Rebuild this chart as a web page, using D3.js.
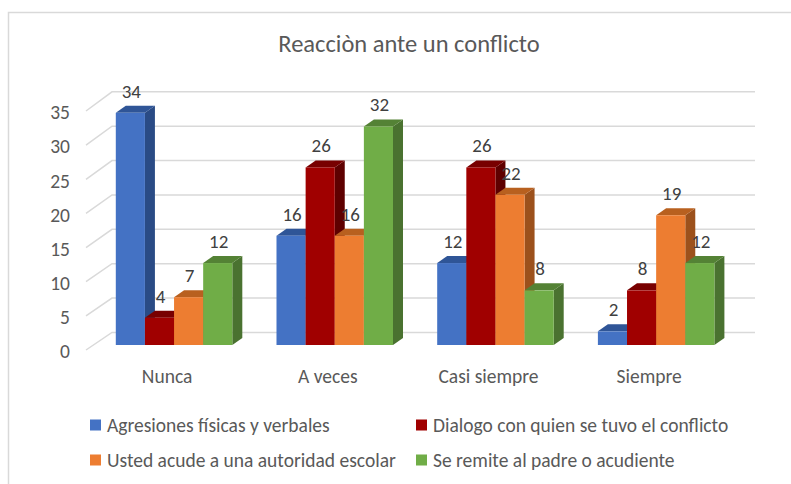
<!DOCTYPE html>
<html>
<head>
<meta charset="utf-8">
<script src="https://cdn.jsdelivr.net/npm/d3@7"></script>
<style>
  body { margin: 0; background: #fff; }
  text { font-family: Carlito, Lato, "Liberation Sans", sans-serif; }
</style>
</head>
<body>
<script>
var categories = ["Nunca", "A veces", "Casi siempre", "Siempre"];
var seriesNames = ["Agresiones físicas y verbales", "Dialogo con quien se tuvo el conflicto",
                   "Usted acude a una autoridad escolar", "Se remite al padre o acudiente"];
var agresiones = [34, 16, 12, 2];
var dialogo = [4, 26, 26, 8];
var autoridad = [7, 16, 22, 19];
var padre = [12, 32, 8, 12];
var yTicks = [0, 5, 10, 15, 20, 25, 30, 35];

var allSeries = [agresiones, dialogo, autoridad, padre];
// front, top, side
var colors = [
  ["#4472C4", "#2F5597", "#2A4B85"],
  ["#A00000", "#780000", "#5E0000"],
  ["#ED7D31", "#B8601F", "#9C511C"],
  ["#70AD47", "#548235", "#4A7230"]
];

var W = 791, H = 484;
var svg = d3.select("body").append("svg").attr("width", W).attr("height", H);

svg.append("rect").attr("x", 8.5).attr("y", 12.5).attr("width", 800).attr("height", 500)
   .attr("fill", "#fff").attr("stroke", "#d9d9d9").attr("stroke-width", 1.5);

svg.append("text").attr("x", 409).attr("y", 52).attr("text-anchor", "middle")
   .attr("font-size", 24.5).attr("fill", "#595959").text("Reacciòn ante un conflicto");

// 3d geometry
var depthX = 26, depthY = -17;      // floor depth
var barDX = 10, barDY = -7;         // bar depth
var yLeft = d3.scaleLinear().domain([0, 35]).range([350, 111]);
var yBack = d3.scaleLinear().domain([0, 35]).range([332.5, 91.8]);
var yBar = d3.scaleLinear().domain([0, 35]).range([345, 106]);

var x0 = d3.scaleBand().domain(categories).range([93.7, 736.5]).paddingInner(0.275).paddingOuter(0.1375);
var x1 = d3.scaleBand().domain(d3.range(4)).range([0, x0.bandwidth()]);

// gridlines: left wall diagonals + back wall horizontals
var grid = svg.append("g").attr("stroke", "#d9d9d9").attr("stroke-width", 1.5).attr("fill", "none");
yTicks.forEach(function(v){
  grid.append("path").attr("d", "M86," + yLeft(v) + "L" + (86 + depthX) + "," + yBack(v) + "L755," + yBack(v));
});

// y axis labels
var ay = svg.append("g").attr("transform", "translate(86,1.5)")
  .call(d3.axisLeft(yLeft).tickValues(yTicks).tickSize(0).tickPadding(16));
ay.select(".domain").remove();
ay.selectAll("text").attr("font-size", 19.5).attr("fill", "#595959").style("font-family", null);

// bars, drawn left to right
var bars = svg.append("g");
categories.forEach(function(c, ci){
  allSeries.forEach(function(s, si){
    var v = s[ci];
    var xa = x0(c) + x1(si), xb = xa + x1.bandwidth();
    var yt = yBar(v), yb = yBar(0);
    var g = bars.append("g");
    g.append("path").attr("fill", colors[si][2])
      .attr("d", "M" + xb + "," + yt + "L" + (xb + barDX) + "," + (yt + barDY) +
                 "L" + (xb + barDX) + "," + (yb + barDY) + "L" + xb + "," + yb + "Z");
    g.append("path").attr("fill", colors[si][1])
      .attr("d", "M" + xa + "," + yt + "L" + (xa + barDX) + "," + (yt + barDY) +
                 "L" + (xb + barDX) + "," + (yt + barDY) + "L" + xb + "," + yt + "Z");
    g.append("rect").attr("fill", colors[si][0])
      .attr("x", xa).attr("y", yt).attr("width", xb - xa).attr("height", yb - yt);
  });
});

// data labels
var labels = svg.append("g");
categories.forEach(function(c, ci){
  allSeries.forEach(function(s, si){
    var v = s[ci];
    labels.append("text")
      .attr("x", x0(c) + x1(si) + x1.bandwidth() / 2 + 1)
      .attr("y", yBar(v) - 15)
      .attr("text-anchor", "middle").attr("font-size", 19).attr("fill", "#404040")
      .text(v);
  });
});

// category axis
var ax = svg.append("g").attr("transform", "translate(-7,369)")
  .call(d3.axisBottom(x0).tickSize(0).tickPadding(0));
ax.select(".domain").remove();
ax.selectAll("text").attr("font-size", 19.5).attr("fill", "#595959").style("font-family", null);

// legend
var legendPos = [[90, 425], [416, 425], [90, 460], [416, 460]];
var legend = svg.append("g");
seriesNames.forEach(function(n, i){
  var p = legendPos[i];
  legend.append("rect").attr("x", p[0]).attr("y", p[1] - 5.5).attr("width", 11).attr("height", 11)
        .attr("fill", colors[i][0]);
  legend.append("text").attr("x", p[0] + 17).attr("y", p[1] + 6.5)
        .attr("font-size", 19.5).attr("fill", "#595959").text(n);
});
</script>
</body>
</html>
